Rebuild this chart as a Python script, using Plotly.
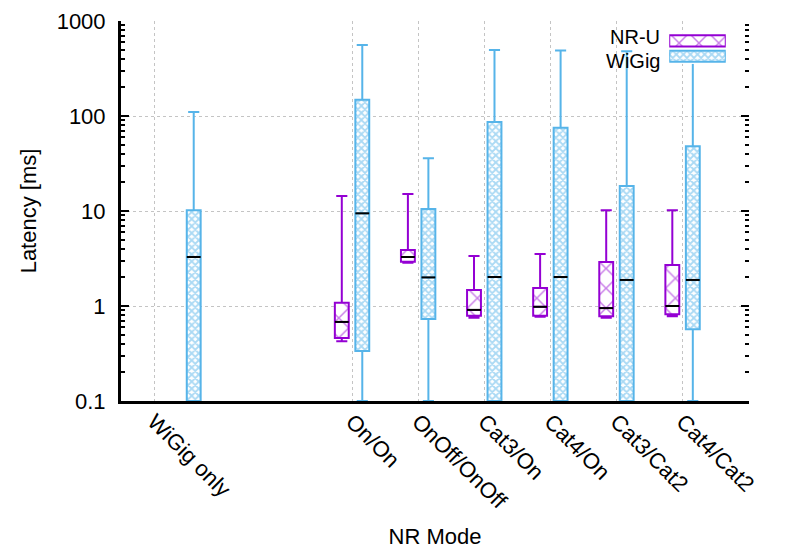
import plotly.graph_objects as go

# ---------------- data ----------------
categories = ["WiGig only", "On/On", "OnOff/OnOff", "Cat3/On", "Cat4/On", "Cat3/Cat2", "Cat4/Cat2"]
cat_pos = [0, 3, 4, 5, 6, 7, 8]

# NR-U (no value for "WiGig only")
nru_cats = ["On/On", "OnOff/OnOff", "Cat3/On", "Cat4/On", "Cat3/Cat2", "Cat4/Cat2"]
nru_lower = [0.425, 2.85, 0.75, 0.77, 0.75, 0.78]
nru_q1 = [0.46, 2.92, 0.79, 0.79, 0.78, 0.82]
nru_median = [0.68, 3.28, 0.91, 0.98, 0.95, 1.0]
nru_q3 = [1.08, 3.88, 1.47, 1.55, 2.9, 2.7]
nru_upper = [14.4, 15.1, 3.36, 3.53, 10.2, 10.2]

# WiGig
wig_cats = categories
wig_lower = [0.1, 0.1, 0.1, 0.1, 0.1, 0.1, 0.1]
wig_q1 = [0.1, 0.336, 0.73, 0.1, 0.1, 0.1, 0.57]
wig_median = [3.28, 9.45, 2.0, 2.02, 2.02, 1.88, 1.88]
wig_q3 = [10.2, 148, 10.5, 86.5, 75, 18.3, 48]
wig_upper = [110, 560, 36, 495, 490, 480, 505]

y_ticks = [0.1, 1, 10, 100, 1000]
y_ticktext = ["0.1", "1", "10", "100", "1000"]

# ---------------- style ----------------
NRU_COLOR = "#9400D3"
WIG_COLOR = "#56B4E9"
FONT = "Liberation Sans, Arial, sans-serif"
BOX_W = 0.21
NRU_SHIFT = -0.16
WIG_SHIFT = 0.15
WIG_ONLY_SHIFT = 0.6
GRID = "#c4c4c4"
NRU_PAT = dict(shape="x", fgcolor=NRU_COLOR, bgcolor="white", size=14, solidity=0.2)
WIG_PAT = dict(shape="x", fgcolor=WIG_COLOR, bgcolor="white", size=5, solidity=0.6)

pos_of = dict(zip(categories, cat_pos))
nru_x = [pos_of[c] + NRU_SHIFT for c in nru_cats]
wig_x = [pos_of[c] + (WIG_ONLY_SHIFT if c == "WiGig only" else WIG_SHIFT) for c in wig_cats]

# minor log ticks 2..9 of each decade inside the range
minor_vals = [m * d for d in (0.1, 1, 10, 100) for m in range(2, 10)]


def seg(xs, ys, w):
    sx, sy = [], []
    for x, y in zip(xs, ys):
        sx += [x - w / 2, x + w / 2, None]
        sy += [y, y, None]
    return sx, sy


fig = go.Figure()

# hatched box bodies
for xs, q1, q3, pat in [(nru_x, nru_q1, nru_q3, NRU_PAT), (wig_x, wig_q1, wig_q3, WIG_PAT)]:
    fig.add_trace(go.Bar(
        x=xs, base=q1, y=[b - a for a, b in zip(q1, q3)], width=BOX_W,
        marker=dict(color="white", line=dict(width=0), pattern=pat),
        showlegend=False, hoverinfo="skip"))

# box outlines + whiskers
for name, xs, lo, q1, med, q3, up, col in [
    ("NR-U", nru_x, nru_lower, nru_q1, nru_median, nru_q3, nru_upper, NRU_COLOR),
    ("WiGig", wig_x, wig_lower, wig_q1, wig_median, wig_q3, wig_upper, WIG_COLOR),
]:
    fig.add_trace(go.Box(
        name=name, x=xs, q1=q1, median=med, q3=q3, lowerfence=lo, upperfence=up,
        width=BOX_W, whiskerwidth=0.8, boxpoints=False,
        line=dict(color=col, width=2), fillcolor="rgba(0,0,0,0)", showlegend=False))

# medians in black
for xs, med in [(nru_x, nru_median), (wig_x, wig_median)]:
    sx, sy = seg(xs, med, BOX_W)
    fig.add_trace(go.Scatter(x=sx, y=sy, mode="lines", line=dict(color="black", width=2),
                             showlegend=False, hoverinfo="skip"))

# key swatches (gnuplot style: text left, sample right)
for yv, col, pat in [(1, NRU_COLOR, NRU_PAT), (0, WIG_COLOR, WIG_PAT)]:
    fig.add_trace(go.Bar(
        x=[1], y=[yv], orientation="h", width=0.72, xaxis="x3", yaxis="y3",
        marker=dict(color="white", line=dict(color=col, width=2), pattern=pat),
        showlegend=False, hoverinfo="skip"))

axis_font = dict(family=FONT, size=22, color="black")
key_font = dict(family=FONT, size=20, color="black")
minor_def = dict(tickmode="array", tickvals=minor_vals, ticks="inside", ticklen=4,
                 tickwidth=2, tickcolor="black", showgrid=False)

fig.update_layout(
    width=781, height=544,
    margin=dict(l=113, r=40, t=13, b=151, pad=0, autoexpand=False),
    paper_bgcolor="white", plot_bgcolor="white",
    font=axis_font,
    barmode="overlay", boxmode="overlay", showlegend=False,
    xaxis=dict(
        range=[-0.5, 9.0], tickmode="array", tickvals=cat_pos, ticktext=categories,
        tickangle=45, ticks="", showgrid=True, gridcolor=GRID, griddash="dot", gridwidth=1,
        showline=True, linecolor="black", linewidth=3, zeroline=False, automargin=False,
        tickfont=axis_font, ticklabelstandoff=-4,
        title=dict(text="NR Mode", font=axis_font, standoff=16)),
    yaxis=dict(
        type="log", range=[-1, 3], tickmode="array", tickvals=y_ticks, ticktext=y_ticktext,
        ticks="inside", ticklen=8, tickwidth=2, tickcolor="black", minor=minor_def,
        showgrid=True, gridcolor=GRID, griddash="dot", gridwidth=1,
        showline=True, linecolor="black", linewidth=3, zeroline=False, automargin=False,
        tickfont=axis_font, ticklabelstandoff=8,
        title=dict(text="Latency [ms]", font=axis_font, standoff=14)),
    yaxis2=dict(
        type="log", range=[-1, 3], overlaying="y", side="right", anchor="x",
        tickmode="array", tickvals=y_ticks, showticklabels=False, automargin=False,
        ticks="inside", ticklen=8, tickwidth=2, tickcolor="black", minor=minor_def,
        showgrid=False, showline=False, zeroline=False),
    xaxis3=dict(domain=[0.873, 0.963], anchor="y3", range=[0, 1], visible=False, fixedrange=True),
    yaxis3=dict(domain=[0.887, 0.968], anchor="x3", range=[-0.5, 1.5], visible=False, fixedrange=True),
    annotations=[
        dict(text="NR-U", xref="paper", yref="paper", x=0.86, y=0.9276, xanchor="right",
             yanchor="bottom", showarrow=False, font=key_font, borderpad=0),
        dict(text="WiGig", xref="paper", yref="paper", x=0.86, y=0.925, xanchor="right",
             yanchor="top", showarrow=False, font=key_font, borderpad=0),
    ],
)

# dummy trace so the mirrored right-hand axis is rendered
fig.add_trace(go.Scatter(x=[None], y=[None], yaxis="y2", showlegend=False, hoverinfo="skip"))

fig.write_html("out.html")
